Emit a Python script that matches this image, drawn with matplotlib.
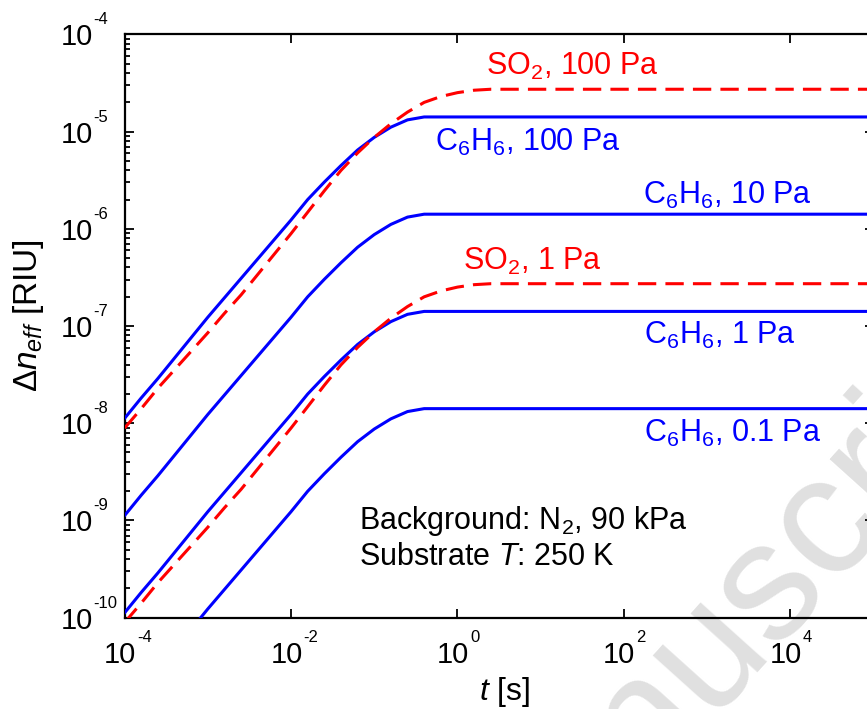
import numpy as np
import matplotlib
matplotlib.use("Agg")
import matplotlib.pyplot as plt

plt.rcParams['font.family'] = ['Liberation Sans', 'DejaVu Sans']
plt.rcParams['mathtext.fontset'] = 'custom'
plt.rcParams['mathtext.rm'] = 'Liberation Sans'
plt.rcParams['mathtext.it'] = 'Liberation Sans:italic'
plt.rcParams['mathtext.bf'] = 'Liberation Sans:bold'

# time samples, log10(t / s)
c6h6_logt = [-4.0, -3.8, -3.6, -3.4, -3.2, -3.0, -2.8, -2.6, -2.4, -2.2,
             -2.0, -1.8, -1.6, -1.4, -1.2, -1.0, -0.8, -0.6, -0.4, 5.0]
so2_logt = [-4.0, -3.8, -3.6, -3.4, -3.2, -3.0, -2.8, -2.6, -2.4, -2.2,
            -2.0, -1.8, -1.6, -1.4, -1.2, -1.0, -0.8, -0.6, -0.4, -0.2,
            0.0, 0.2, 0.4, 5.0]

# log10(delta n_eff / RIU)
c6h6_100 = [-7.95, -7.74, -7.54, -7.33, -7.12, -6.91, -6.71, -6.51, -6.31, -6.11,
            -5.91, -5.70, -5.52, -5.35, -5.19, -5.06, -4.955, -4.88, -4.85, -4.85]
c6h6_10 = [-8.95, -8.74, -8.54, -8.33, -8.12, -7.91, -7.71, -7.51, -7.31, -7.11,
           -6.91, -6.70, -6.52, -6.35, -6.19, -6.06, -5.955, -5.88, -5.85, -5.85]
c6h6_1 = [-9.95, -9.74, -9.54, -9.33, -9.12, -8.91, -8.71, -8.51, -8.31, -8.11,
          -7.91, -7.70, -7.52, -7.35, -7.19, -7.06, -6.955, -6.88, -6.85, -6.85]
c6h6_01 = [-10.95, -10.74, -10.54, -10.33, -10.12, -9.91, -9.71, -9.51, -9.31, -9.11,
           -8.91, -8.70, -8.52, -8.35, -8.19, -8.06, -7.955, -7.88, -7.85, -7.85]
so2_100 = [-8.05, -7.85, -7.64, -7.45, -7.26, -7.07, -6.87, -6.68, -6.47, -6.26,
           -6.05, -5.83, -5.61, -5.40, -5.22, -5.06, -4.92, -4.80, -4.70, -4.64,
           -4.60, -4.575, -4.565, -4.565]
so2_1 = [-10.05, -9.85, -9.64, -9.45, -9.26, -9.07, -8.87, -8.68, -8.47, -8.26,
         -8.05, -7.83, -7.61, -7.40, -7.22, -7.06, -6.92, -6.80, -6.70, -6.64,
         -6.60, -6.575, -6.565, -6.565]

xdecades = [-4, -2, 0, 2, 4]
ydecades = [-10, -9, -8, -7, -6, -5, -4]

blue = '#0000ff'
red = '#ff0000'

fig = plt.figure(figsize=(8.67, 7.09), dpi=100)
ax = fig.add_axes([0.1437, 0.1288, 0.8638, 0.8228])

t_c = 10.0 ** np.array(c6h6_logt)
t_s = 10.0 ** np.array(so2_logt)

for vals in [c6h6_100, c6h6_10, c6h6_1, c6h6_01]:
    ax.plot(t_c, 10.0 ** np.array(vals), color=blue, lw=2.2, zorder=3,
            solid_joinstyle='round')
for vals in [so2_100, so2_1]:
    ax.plot(t_s, 10.0 ** np.array(vals), color=red, lw=2.2, dashes=(6, 3), zorder=4)

ax.set_xscale('log')
ax.set_yscale('log')
ax.set_xlim(1e-4, 1e5)
ax.set_ylim(1e-10, 1e-4)

ax.set_xticks([10.0 ** k for k in xdecades])
ax.xaxis.set_minor_locator(matplotlib.ticker.NullLocator())
ax.set_yticks([10.0 ** k for k in ydecades])
ax.yaxis.set_minor_locator(matplotlib.ticker.LogLocator(base=10, subs=np.arange(2, 10), numticks=20))
ax.set_xticklabels([])
ax.set_yticklabels([])
ax.yaxis.set_minor_formatter(matplotlib.ticker.NullFormatter())
ax.tick_params(which='both', direction='in', top=True, right=True, width=1.3, color='black')
ax.tick_params(which='major', length=6.5)
ax.tick_params(which='minor', length=3.6)
for sp in ax.spines.values():
    sp.set_linewidth(1.6)

# MATLAB-style power labels: "10" with a small raised exponent
for k in ydecades:
    ax.annotate('10', xy=(0, 10.0 ** k), xycoords=('axes fraction', 'data'),
                xytext=(-32, -11), textcoords='offset pixels',
                ha='right', va='baseline', fontsize=21, annotation_clip=False)
    ax.annotate(str(k), xy=(0, 10.0 ** k), xycoords=('axes fraction', 'data'),
                xytext=(-31, 10), textcoords='offset pixels',
                ha='left', va='baseline', fontsize=12, annotation_clip=False)
for k in xdecades:
    ax.annotate('10', xy=(10.0 ** k, 0), xycoords=('data', 'axes fraction'),
                xytext=(11.5, -45.5), textcoords='offset pixels',
                ha='right', va='baseline', fontsize=21, annotation_clip=False)
    ax.annotate(str(k), xy=(10.0 ** k, 0), xycoords=('data', 'axes fraction'),
                xytext=(12.5, -24), textcoords='offset pixels',
                ha='left', va='baseline', fontsize=12, annotation_clip=False)

fig.text(37 / 867, 1 - 316 / 709, r'$\Delta \mathit{n}_{eff}$ [RIU]', rotation=90,
         rotation_mode='anchor', ha='center', va='baseline', fontsize=24)
fig.text(505 / 867, 1 - 700 / 709, r'$t$ [s]', ha='center', va='baseline', fontsize=23)

# curve labels
fs = 22
ax.text(10 ** 0.344, 10 ** -4.42, r'SO$_2$, 100 Pa', color=red, fontsize=fs)
ax.text(10 ** -0.269, 10 ** -5.20, r'C$_6$H$_6$, 100 Pa', color=blue, fontsize=fs)
ax.text(10 ** 2.227, 10 ** -5.74, r'C$_6$H$_6$, 10 Pa', color=blue, fontsize=fs)
ax.text(10 ** 0.064, 10 ** -6.425, r'SO$_2$, 1 Pa', color=red, fontsize=fs)
ax.text(10 ** 2.243, 10 ** -7.18, r'C$_6$H$_6$, 1 Pa', color=blue, fontsize=fs)
ax.text(10 ** 2.243, 10 ** -8.19, r'C$_6$H$_6$, 0.1 Pa', color=blue, fontsize=fs)
ax.text(10 ** -1.179, 10 ** -9.093, r'Background: N$_2$, 90 kPa', color='black', fontsize=fs)
ax.text(10 ** -1.179, 10 ** -9.46, r'Substrate $T$: 250 K', color='black', fontsize=fs)

# diagonal watermark behind the data
ax.text(0.5615, -0.350, 'Manuscript', transform=fig.transFigure, rotation=48,
        rotation_mode='anchor', ha='left', va='baseline', fontsize=122,
        color='#e0e0e0', zorder=0.5, clip_on=False)

fig.savefig('out.png', dpi=100)
